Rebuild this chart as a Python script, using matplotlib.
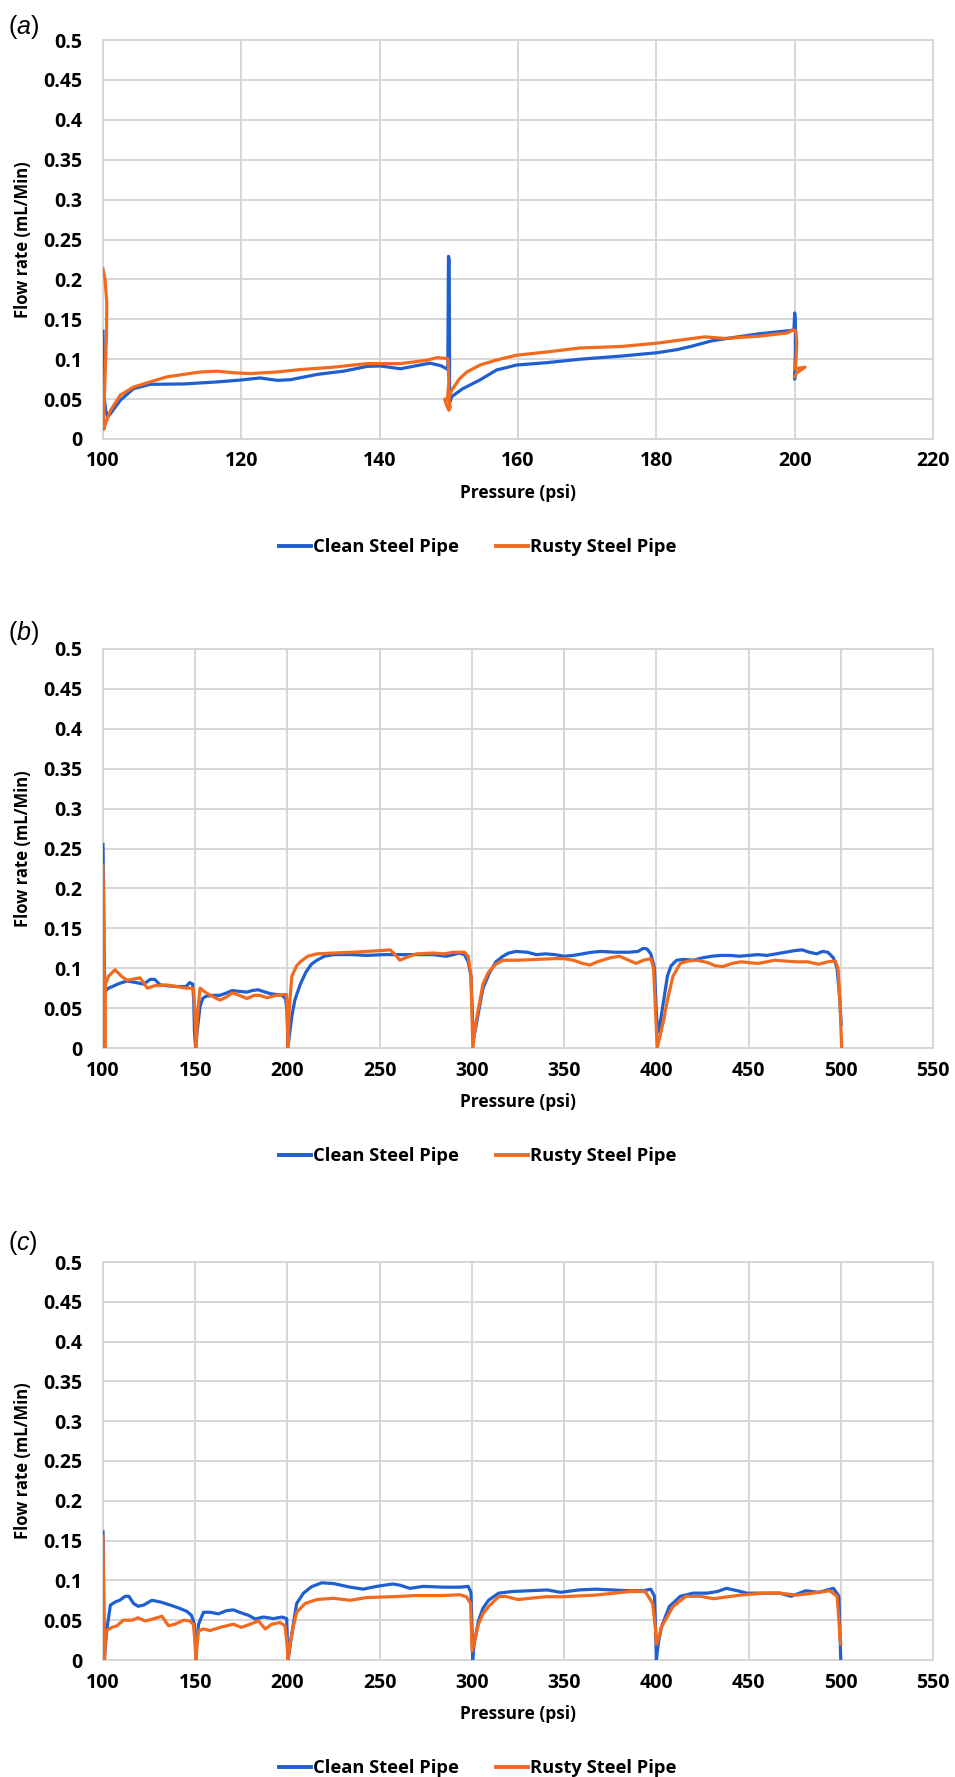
import matplotlib
matplotlib.use("Agg")
import matplotlib.pyplot as plt
from matplotlib.lines import Line2D

plt.rcParams['font.family'] = ['Open Sans', 'DejaVu Sans']
plt.rcParams['mathtext.fontset'] = 'custom'
plt.rcParams['mathtext.rm'] = 'Liberation Sans'
plt.rcParams['mathtext.it'] = 'Liberation Sans:italic'

# ---------------- data ----------------
series_names = ["Clean Steel Pipe", "Rusty Steel Pipe"]
panel_labels = ["a", "b", "c"]
y_ticks = [0, 0.05, 0.1, 0.15, 0.2, 0.25, 0.3, 0.35, 0.4, 0.45, 0.5]
y_tick_labels = ["0", "0.05", "0.1", "0.15", "0.2", "0.25", "0.3", "0.35", "0.4", "0.45", "0.5"]
a_x_ticks = [100, 120, 140, 160, 180, 200, 220]
bc_x_ticks = [100, 150, 200, 250, 300, 350, 400, 450, 500, 550]

# Panel (a)
a_clean_x = [100.0, 100.05, 100.1, 100.2, 100.4, 100.7, 101.1, 102.5, 104.4, 106.8, 111.7, 116.5,
             120.0, 122.7, 125.2, 127.1, 131.0, 134.8, 138.2, 140.1, 143.0, 145.4, 147.3, 148.8,
             149.7, 149.85, 149.95, 150.05, 150.1, 150.1, 150.4, 152.0, 154.5, 156.9, 159.8, 164.1,
             169.0, 175.0, 180.0, 183.0, 185.0, 188.0, 191.0, 195.0, 199.5, 199.9, 200.0, 200.1,
             200.1, 200.0, 200.05]
a_clean_y = [0.135, 0.10, 0.07, 0.05, 0.035, 0.028, 0.032, 0.0485, 0.063, 0.0685, 0.069, 0.0715,
             0.074, 0.0765, 0.0735, 0.0743, 0.081, 0.085, 0.091, 0.0915, 0.088, 0.092, 0.095, 0.092,
             0.088, 0.087, 0.229, 0.225, 0.12, 0.045, 0.053, 0.063, 0.074, 0.0865, 0.0927, 0.0956,
             0.100, 0.104, 0.108, 0.112, 0.116, 0.123, 0.127, 0.132, 0.136, 0.137, 0.158, 0.150,
             0.110, 0.075, 0.080]

a_rusty_x = [100.0, 100.3, 100.55, 100.5, 100.3, 100.15, 100.1, 100.4, 101.1, 102.5, 104.4, 106.8,
             109.3, 111.7, 114.1, 116.5, 118.9, 121.3, 125.2, 128.5, 133.3, 138.2, 143.0, 146.8,
             148.3, 149.6, 149.9, 150.0, 149.8, 149.4, 149.7, 150.0, 150.2, 150.0, 150.4, 151.5,
             152.6, 154.5, 156.9, 159.8, 164.1, 168.9, 175.0, 180.0, 187.0, 190.0, 195.0, 199.0,
             199.8, 200.2, 200.3, 200.2, 200.1, 201.5, 200.3, 200.1, 200.0]
a_rusty_y = [0.213, 0.20, 0.17, 0.13, 0.08, 0.04, 0.012, 0.02, 0.036, 0.055, 0.065, 0.0715,
             0.078, 0.081, 0.084, 0.085, 0.083, 0.082, 0.084, 0.087, 0.090, 0.0945, 0.0945, 0.0986,
             0.102, 0.101, 0.100, 0.070, 0.050, 0.050, 0.042, 0.036, 0.040, 0.050, 0.061, 0.075,
             0.084, 0.0927, 0.099, 0.105, 0.109, 0.114, 0.116, 0.120, 0.128, 0.126, 0.129, 0.133,
             0.137, 0.135, 0.120, 0.100, 0.088, 0.090, 0.083, 0.080, 0.078]

# Panel (b)
b_clean_x = [100.0, 100.3, 100.6, 101.0, 101.5, 103, 105, 109, 113, 118, 122, 125.6, 128, 131, 135,
             140, 145, 147, 148.6, 149.2, 149.6, 150.2, 151, 152.6, 154, 156, 160, 163.4, 167, 170,
             174, 178, 181, 184, 188, 191, 194, 197, 199.0, 199.8, 200.3, 201, 202.4, 204, 207, 210,
             213, 216, 220, 225, 235, 243, 252, 261, 270, 279, 286, 290, 293, 296, 298, 299.5, 300.3,
             300.7, 302, 304, 306, 309.5, 313, 316.8, 320, 324, 330, 335, 340, 345, 350, 355, 360,
             365, 370, 378, 385, 390, 393, 395, 397, 399, 400, 400.8, 402, 404, 406, 408, 411, 415,
             420, 425, 430, 435, 440, 445, 450, 455, 460, 465, 470, 475, 479, 483, 487, 490, 493,
             496, 498, 499.5, 500.2]
b_clean_y = [0.255, 0.20, 0.12, 0.075, 0.072, 0.075, 0.077, 0.081, 0.084, 0.082, 0.080, 0.086, 0.086,
             0.079, 0.078, 0.077, 0.077, 0.082, 0.080, 0.060, 0.020, 0.0, 0.020, 0.052, 0.062, 0.065,
             0.066, 0.066, 0.069, 0.072, 0.071, 0.070, 0.072, 0.073, 0.070, 0.068, 0.067, 0.066,
             0.062, 0.045, 0.0, 0.015, 0.040, 0.060, 0.080, 0.095, 0.105, 0.110, 0.115, 0.117, 0.117,
             0.116, 0.117, 0.117, 0.117, 0.117, 0.115, 0.117, 0.119, 0.117, 0.108, 0.090, 0.040,
             0.010, 0.025, 0.050, 0.075, 0.094, 0.108, 0.115, 0.119, 0.121, 0.120, 0.117, 0.118,
             0.117, 0.115, 0.116, 0.118, 0.120, 0.121, 0.120, 0.120, 0.121, 0.125, 0.124, 0.118,
             0.100, 0.045, 0.020, 0.030, 0.060, 0.090, 0.103, 0.110, 0.111, 0.110, 0.113, 0.115,
             0.116, 0.116, 0.115, 0.116, 0.117, 0.116, 0.118, 0.120, 0.122, 0.123, 0.120, 0.118,
             0.121, 0.120, 0.113, 0.100, 0.060, 0.030]

b_rusty_x = [100.0, 100.5, 100.8, 101.0, 101.3, 103, 106.5, 110, 113, 116, 120, 122, 124, 128, 134.5,
             140, 145, 149, 150.0, 150.5, 151.2, 152.6, 156, 160, 163.4, 167, 170, 174, 178, 182,
             185, 189, 194, 198, 199.5, 200.0, 200.4, 201, 202.4, 205, 207, 211, 216, 225, 235, 243,
             250, 255.6, 258, 261, 265, 270, 279, 285, 290, 296, 298, 299.5, 300.5, 302, 304, 306,
             309, 313, 316.8, 325, 335, 345, 350, 355, 360, 364, 368, 375, 380, 385, 389, 393, 397,
             398.5, 399.5, 400.5, 402, 404, 406, 409, 413, 417, 422, 428, 432, 436, 441, 446, 450,
             455, 460, 464, 470, 476, 482, 488, 493, 497, 498.5, 499.5, 500.5]
b_rusty_y = [0.228, 0.150, 0.050, 0.0, 0.080, 0.090, 0.098, 0.090, 0.085, 0.086, 0.088, 0.082, 0.075,
             0.078, 0.079, 0.077, 0.075, 0.075, 0.040, 0.0, 0.040, 0.075, 0.069, 0.064, 0.060, 0.064,
             0.069, 0.066, 0.062, 0.066, 0.066, 0.063, 0.066, 0.067, 0.067, 0.030, 0.0, 0.050, 0.090,
             0.103, 0.108, 0.115, 0.118, 0.119, 0.120, 0.121, 0.122, 0.123, 0.118, 0.110, 0.114,
             0.118, 0.119, 0.118, 0.120, 0.120, 0.115, 0.090, 0.0, 0.030, 0.055, 0.080, 0.095, 0.105,
             0.110, 0.110, 0.111, 0.112, 0.112, 0.110, 0.106, 0.104, 0.108, 0.113, 0.115, 0.110,
             0.106, 0.110, 0.112, 0.100, 0.050, 0.0, 0.015, 0.035, 0.060, 0.090, 0.106, 0.109, 0.110,
             0.107, 0.103, 0.102, 0.106, 0.108, 0.107, 0.106, 0.108, 0.110, 0.109, 0.108, 0.108,
             0.105, 0.108, 0.109, 0.100, 0.060, 0.0]

# Panel (c)
c_clean_x = [100.0, 100.3, 100.7, 101.0, 102, 104, 106.7, 109, 112, 114, 116.6, 119, 122, 126.5, 131,
             136.5, 142, 145.5, 148, 149.5, 150.0, 150.3, 150.8, 151.8, 154.5, 158, 162.6, 167, 170.7,
             174, 179, 182.5, 187, 192.4, 197, 199.6, 200.0, 200.3, 201, 202.3, 205, 208.7, 213,
             218.6, 225, 234, 241, 248.4, 257, 261, 266.4, 273.6, 284.5, 293.5, 298, 299.5, 300.2,
             300.4, 301.2, 303.6, 306, 309, 314.5, 321.8, 331, 341, 348, 358, 367, 376, 385.5, 393,
             397, 399, 399.6, 400, 401, 402.7, 407, 413, 420, 427.6, 433, 438, 444, 449, 458, 467,
             473, 481, 488, 496, 499, 499.6, 500]
c_clean_y = [0.161, 0.10, 0.0, 0.01, 0.037, 0.069, 0.073, 0.075, 0.080, 0.080, 0.071, 0.0675, 0.069,
             0.075, 0.073, 0.069, 0.0645, 0.061, 0.056, 0.045, 0.024, 0.0, 0.020, 0.045, 0.060, 0.060,
             0.058, 0.062, 0.063, 0.060, 0.056, 0.0515, 0.054, 0.052, 0.054, 0.052, 0.020, 0.0, 0.010,
             0.032, 0.071, 0.084, 0.092, 0.097, 0.096, 0.0915, 0.089, 0.0925, 0.0955, 0.094, 0.090,
             0.0925, 0.0915, 0.0915, 0.0925, 0.085, 0.030, 0.0, 0.020, 0.0495, 0.065, 0.075, 0.084,
             0.086, 0.087, 0.088, 0.085, 0.088, 0.089, 0.088, 0.087, 0.087, 0.089, 0.080, 0.040, 0.0,
             0.020, 0.041, 0.067, 0.080, 0.084, 0.084, 0.086, 0.090, 0.087, 0.084, 0.084, 0.084,
             0.080, 0.087, 0.085, 0.090, 0.080, 0.030, 0.0]

c_rusty_x = [100.0, 100.3, 100.8, 101.2, 101.8, 104.9, 107.6, 111, 115.7, 119, 123, 127, 132, 135.5,
             139, 143.7, 147, 149, 150.0, 150.5, 151.0, 151.8, 154.5, 158, 163.5, 170.7, 175, 179.8,
             184.3, 188, 191.5, 196, 198.7, 199.8, 200.3, 200.8, 201.4, 203, 205, 209.6, 216, 225,
             234, 243, 257, 270, 284.5, 293.5, 297, 299.3, 300.0, 300.2, 301.5, 303.6, 306, 309,
             314.5, 318, 325, 340, 349, 367, 385.5, 394, 398, 399.5, 400, 401, 402.7, 409, 416, 424,
             431, 445.5, 458, 467, 476, 485, 494, 498, 499, 499.5, 500]
c_rusty_y = [0.155, 0.090, 0.0, 0.020, 0.037, 0.041, 0.043, 0.050, 0.050, 0.053, 0.049, 0.0515, 0.055,
             0.043, 0.045, 0.050, 0.049, 0.045, 0.020, 0.0, 0.020, 0.037, 0.039, 0.037, 0.041, 0.045,
             0.041, 0.045, 0.049, 0.039, 0.045, 0.047, 0.043, 0.020, 0.0, 0.010, 0.019, 0.040, 0.060,
             0.071, 0.076, 0.0775, 0.075, 0.0785, 0.0795, 0.081, 0.081, 0.082, 0.0795, 0.071, 0.020,
             0.011, 0.025, 0.045, 0.058, 0.067, 0.0795, 0.080, 0.076, 0.0795, 0.0795, 0.0815, 0.086,
             0.086, 0.071, 0.040, 0.020, 0.025, 0.041, 0.067, 0.080, 0.080, 0.077, 0.0815, 0.084,
             0.084, 0.0815, 0.084, 0.087, 0.080, 0.050, 0.028, 0.020]

# ---------------- styling ----------------
W, H = 955, 1777
BLUE = "#1F5FD0"
ORANGE = "#F26A1E"
GRID = "#D6D6D6"

fig = plt.figure(figsize=(W / 100, H / 100), dpi=100)

panels = [
    dict(top=40, bottom=439, xlim=(100, 220), xticks=a_x_ticks,
         clean=(a_clean_x, a_clean_y), rusty=(a_rusty_x, a_rusty_y), lab_y=27),
    dict(top=649, bottom=1048, xlim=(100, 550), xticks=bc_x_ticks,
         clean=(b_clean_x, b_clean_y), rusty=(b_rusty_x, b_rusty_y), lab_y=633),
    dict(top=1262, bottom=1660, xlim=(100, 550), xticks=bc_x_ticks,
         clean=(c_clean_x, c_clean_y), rusty=(c_rusty_x, c_rusty_y), lab_y=1243),
]

left_px, right_px = 103, 933
for p, lab in zip(panels, panel_labels):
    ax = fig.add_axes([left_px / W, 1 - p["bottom"] / H,
                       (right_px - left_px) / W, (p["bottom"] - p["top"]) / H])
    ax.plot(*p["clean"], color=BLUE, lw=2.3, solid_joinstyle="round", label=series_names[0], zorder=3)
    ax.plot(*p["rusty"], color=ORANGE, lw=2.3, solid_joinstyle="round", label=series_names[1], zorder=4)
    ax.set_xlim(*p["xlim"])
    ax.set_ylim(0, 0.5)
    ax.set_xticks(p["xticks"])
    ax.set_xticklabels([str(t) for t in p["xticks"]])
    ax.set_yticks(y_ticks)
    ax.set_yticklabels(y_tick_labels)
    ax.grid(True, color=GRID, lw=1.4, zorder=0)
    ax.set_axisbelow(True)
    for s in ax.spines.values():
        s.set_color(GRID)
        s.set_linewidth(1.4)
    ax.tick_params(axis="both", length=0, labelsize=14, colors="black")
    ax.tick_params(axis="y", pad=15)
    ax.tick_params(axis="x", pad=9)
    for t in ax.get_xticklabels() + ax.get_yticklabels():
        t.set_fontweight("bold")
    ax.set_xlabel("Pressure (psi)", fontsize=12.5, fontweight="bold")
    ax.xaxis.set_label_coords(0.5, -0.113)
    ax.set_ylabel("Flow rate (mL/Min)", fontsize=12, fontweight="bold")
    ax.yaxis.set_label_coords(-0.085, 0.5)
    handles = [Line2D([], [], color=BLUE, lw=2.8), Line2D([], [], color=ORANGE, lw=2.8)]
    ax.legend(handles, series_names, ncol=2, loc="center",
              bbox_to_anchor=(0.5, 1 - (p["bottom"] + 108) / H),
              bbox_transform=fig.transFigure, frameon=False,
              prop=dict(family="Open Sans", weight="bold", size=13.2),
              handlelength=1.75, handletextpad=0.1, columnspacing=2.0)
    fig.text(8 / W, 1 - p["lab_y"] / H, r"$\mathrm{(}\mathit{%s}\mathrm{)}$" % lab,
             fontsize=18, ha="left", va="center")

fig.savefig("out.png", dpi=100, facecolor="white")
